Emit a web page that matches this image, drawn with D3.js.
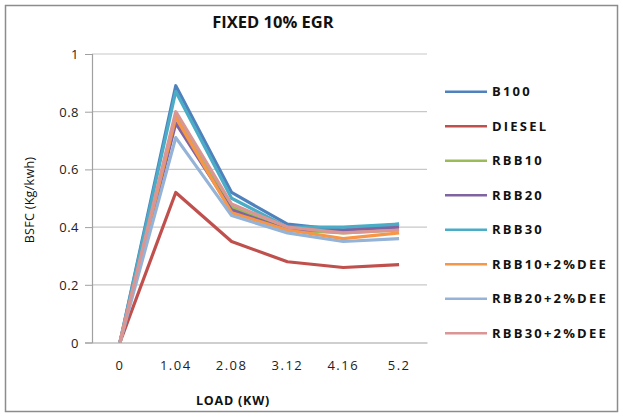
<!DOCTYPE html>
<html><head><meta charset="utf-8">
<script src="https://cdn.jsdelivr.net/npm/d3@7"></script>
<style>body{margin:0;background:#fff}svg{display:block}</style>
</head><body><svg id="c" width="623" height="417"></svg>
<script>
const loads = ["0","1.04","2.08","3.12","4.16","5.2"];
const yTicks = [0,0.2,0.4,0.6,0.8,1];
const seriesNames = ["B100","DIESEL","RBB10","RBB20","RBB30","RBB10+2%DEE","RBB20+2%DEE","RBB30+2%DEE"];
const seriesColors = ["#4F81BD","#C0504D","#9BBB59","#8064A2","#4BACC6","#F79646","#95B3D7","#D99694"];
const b100   = [0,0.89,0.52,0.41,0.39,0.41];
const diesel = [0,0.52,0.35,0.28,0.26,0.27];
const rbb10  = [0,0.79,0.47,0.39,0.38,0.39];
const rbb20  = [0,0.76,0.46,0.39,0.39,0.40];
const rbb30  = [0,0.87,0.50,0.40,0.40,0.41];
const rbb10d = [0,0.78,0.45,0.39,0.36,0.38];
const rbb20d = [0,0.71,0.44,0.38,0.35,0.36];
const rbb30d = [0,0.80,0.48,0.40,0.38,0.39];
const seriesValues = [b100,diesel,rbb10,rbb20,rbb30,rbb10d,rbb20d,rbb30d];

const svg = d3.select("#c");
const L=92,R=427,T=54,B=342.5;
const x = d3.scaleBand().domain(loads).range([L,R]);
const y = d3.scaleLinear().domain([0,1]).range([B,T]);

svg.append("rect").attr("x",5.5).attr("y",5.5).attr("width",612).attr("height",406)
  .attr("fill","#fff").attr("stroke","#8c8c8c").attr("stroke-width",1.5);

svg.append("g").selectAll("line").data(yTicks.filter(d=>d>0)).join("line")
  .attr("x1",L).attr("x2",R).attr("y1",d=>y(d)).attr("y2",d=>y(d))
  .attr("stroke","#c8c8c8").attr("stroke-width",1.2);

const ya = svg.append("g").attr("transform",`translate(${L},0)`)
  .call(d3.axisLeft(y).tickValues(yTicks).tickFormat(d=>d3.format("")(d)).tickSize(7).tickPadding(6));
ya.select(".domain").attr("stroke","#a0a0a0").attr("stroke-width",1.2);
ya.selectAll(".tick line").attr("stroke","#a0a0a0");
ya.selectAll("text").attr("font-family","'Open Sans',sans-serif").attr("font-size",13).attr("fill","#222").attr("dy","0.35em").attr("letter-spacing",0.5);

const xa = svg.append("g").attr("transform",`translate(0,${B})`)
  .call(d3.axisBottom(x).tickSize(0).tickPadding(18));
xa.select(".domain").attr("stroke","#a0a0a0").attr("stroke-width",1.2);
xa.selectAll("text").attr("font-family","'Open Sans',sans-serif").attr("font-size",13).attr("fill","#222").attr("letter-spacing",1.5);

const line = d3.line().x((d,i)=>x(loads[i])+x.bandwidth()/2).y(d=>y(d));
svg.append("g").selectAll("path").data(seriesValues).join("path")
  .attr("d",d=>line(d)).attr("fill","none")
  .attr("stroke",(d,i)=>seriesColors[i]).attr("stroke-width",3.2).attr("stroke-linejoin","round");

svg.append("text").attr("x",273).attr("y",28).attr("text-anchor","middle")
  .attr("font-family","'Open Sans',sans-serif").attr("font-weight","bold").attr("font-size",16.5).attr("fill","#111")
  .text("FIXED 10% EGR");
svg.append("text").attr("x",233).attr("y",405).attr("text-anchor","middle")
  .attr("font-family","'Open Sans',sans-serif").attr("font-weight","bold").attr("font-size",12.5).attr("fill","#111")
  .attr("letter-spacing",0.8).text("LOAD (KW)");
svg.append("text").attr("transform","translate(34,200) rotate(-90)").attr("text-anchor","middle")
  .attr("font-family","'Open Sans',sans-serif").attr("font-size",12.5).attr("fill","#111")
  .attr("letter-spacing",0.3).text("BSFC (Kg/kwh)");

const lg = svg.append("g").selectAll("g").data(seriesNames).join("g")
  .attr("transform",(d,i)=>`translate(445,${91.7+i*34.5})`);
lg.append("line").attr("x1",0).attr("x2",42).attr("stroke",(d,i)=>seriesColors[i]).attr("stroke-width",2.5);
lg.append("text").attr("x",47).attr("dy","0.35em")
  .attr("font-family","'Open Sans',sans-serif").attr("font-weight","bold").attr("font-size",13).attr("fill","#111")
  .attr("letter-spacing",2.2).text(d=>d);
</script></body></html>
